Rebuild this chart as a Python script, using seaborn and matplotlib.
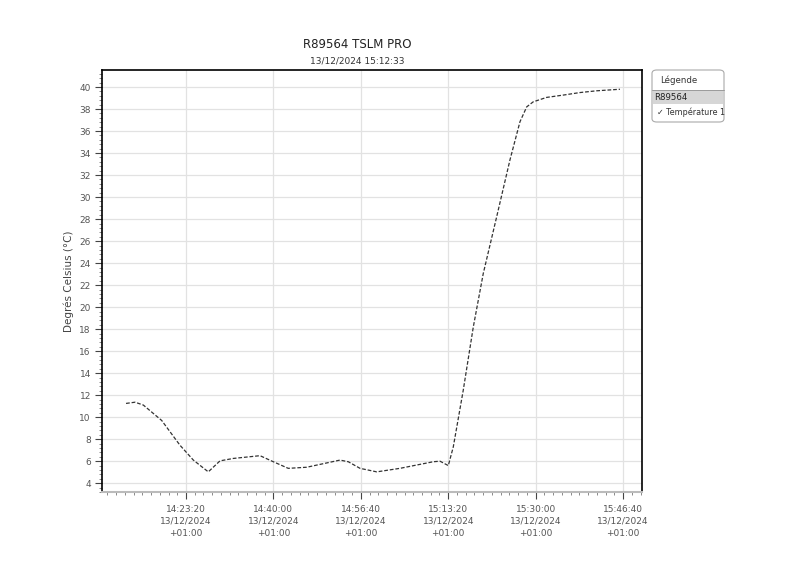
import matplotlib
matplotlib.use("Agg")
import matplotlib.pyplot as plt
import matplotlib.ticker as mticker
from matplotlib.patches import FancyBboxPatch, Rectangle
import seaborn as sns
import pandas as pd

title = "R89564 TSLM PRO"
subtitle = "13/12/2024 15:12:33"
y_label = "Degrés Celsius (°C)"
series_name = "Température 1"
device = "R89564"
legend_title = "Légende"

times = ["14:11:54", "14:13:37", "14:15:12", "14:18:42", "14:22:11", "14:24:44",
         "14:27:35", "14:29:49", "14:32:21", "14:37:27", "14:39:59", "14:42:50",
         "14:46:21", "14:52:42", "14:54:17", "14:56:31", "14:59:42", "15:04:08",
         "15:10:29", "15:11:46", "15:13:21", "15:14:18", "15:16:12", "15:18:07",
         "15:20:01", "15:22:34", "15:25:07", "15:27:01", "15:28:18", "15:29:33",
         "15:32:06", "15:35:16", "15:38:27", "15:41:38", "15:46:05"]
temps = [11.25, 11.36, 11.1, 9.7, 7.45, 6.1,
         5.03, 6.03, 6.25, 6.5, 5.95, 5.35,
         5.45, 6.1, 5.95, 5.35, 5.03, 5.35,
         5.95, 6.0, 5.6, 7.3, 12.45, 18.2,
         23.06, 28.2, 33.4, 36.85, 38.2, 38.66,
         39.06, 39.27, 39.5, 39.66, 39.8]

tick_times = ["14:23:20", "14:40:00", "14:56:40", "15:13:20", "15:30:00", "15:46:40"]
tick_date = "13/12/2024"
tick_tz = "+01:00"
y_ticks = list(range(4, 41, 2))


def secs(s):
    h, m, sec = (int(v) for v in s.split(":"))
    return h * 3600 + m * 60 + sec


df = pd.DataFrame({"t": [secs(t) for t in times], "temp": temps})

sns.set_style("white")
plt.rcParams["font.family"] = ["DejaVu Sans"]

fig = plt.figure(figsize=(8, 5.65), dpi=100)
ax = fig.add_axes([102 / 800, 1 - 492 / 565, 540 / 800, 422 / 565])

sns.lineplot(data=df, x="t", y="temp", ax=ax, color="#333333", linewidth=0.9,
             dashes=False, legend=False)
ax.lines[0].set_dashes([3, 1.5])

tick_pos = [secs(t) for t in tick_times]
ax.set_xticks(tick_pos)
ax.set_xticklabels([f"{t}\n{tick_date}\n{tick_tz}" for t in tick_times])
ax.xaxis.set_minor_locator(mticker.MultipleLocator(100))
ax.set_xlim(tick_pos[0] - 961, tick_pos[-1] + 217)

ax.set_yticks(y_ticks)
ax.yaxis.set_minor_locator(mticker.MultipleLocator(0.4))
ax.set_ylim(3.2, 41.55)

ax.grid(True, which="major", color="#e2e2e2", linewidth=0.9)
ax.set_axisbelow(True)

ax.tick_params(axis="both", which="both", bottom=True, left=True,
               top=False, right=False)
ax.tick_params(axis="both", which="major", labelsize=6.5, labelcolor="#555555",
               color="#444444", length=5, width=0.8, direction="out", pad=3)
ax.tick_params(axis="both", which="minor", color="#777777", length=2.5,
               width=0.6, direction="out")
ax.tick_params(axis="x", which="major", pad=4)
for lbl in ax.get_xticklabels():
    lbl.set_linespacing(1.5)

ax.set_xlabel("")
ax.set_ylabel(y_label, fontsize=7.5, color="#444444", labelpad=4)

for side in ["top", "right", "left"]:
    ax.spines[side].set_color("black")
    ax.spines[side].set_linewidth(1.2)
ax.spines["bottom"].set_color("#bbbbbb")
ax.spines["bottom"].set_linewidth(1.5)

fig.text(357 / 800, 1 - 45 / 565, title, ha="center", va="center",
         fontsize=8.5, color="#222222")
fig.text(357 / 800, 1 - 61 / 565, subtitle, ha="center", va="center",
         fontsize=6.5, color="#333333")

# legend panel
lx0, lx1 = 652 / 800, 724 / 800
ly0, ly1 = 1 - 122 / 565, 1 - 70 / 565
box = FancyBboxPatch((lx0, ly0), lx1 - lx0, ly1 - ly0,
                     boxstyle="round,pad=0,rounding_size=0.006",
                     transform=fig.transFigure, facecolor="white",
                     edgecolor="#aaaaaa", linewidth=0.8)
fig.patches.append(box)
band = Rectangle((lx0 + 0.001, 1 - 104 / 565), lx1 - lx0 - 0.002, 13 / 565,
                 transform=fig.transFigure, facecolor="#d6d6d6",
                 edgecolor="none")
fig.patches.append(band)
fig.lines.append(plt.Line2D([lx0, lx1], [1 - 90 / 565, 1 - 90 / 565],
                            transform=fig.transFigure, color="#999999",
                            linewidth=0.7))
fig.text(660 / 800, 1 - 80 / 565, legend_title, fontsize=6.2,
         color="#333333", va="center")
fig.text(654 / 800, 1 - 98 / 565, device, fontsize=6.2, color="#222222",
         va="center")
fig.text(657 / 800, 1 - 112 / 565, "\u2713 " + series_name, fontsize=5.8,
         color="#333333", va="center")

fig.savefig("out.png", dpi=100, facecolor="white")
